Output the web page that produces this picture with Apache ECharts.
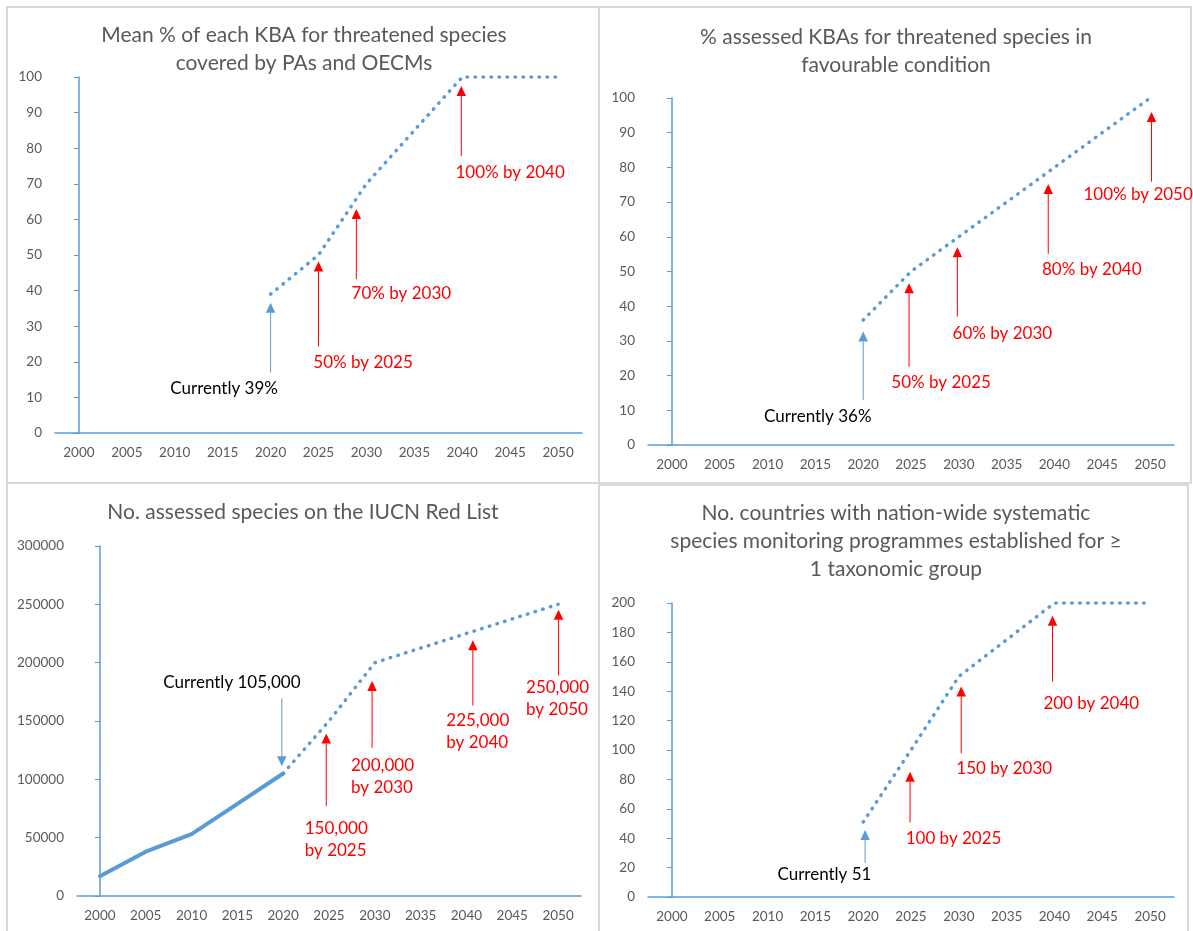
<!DOCTYPE html>
<html>
<head>
<meta charset="utf-8">
<script src="https://cdn.jsdelivr.net/npm/echarts@6/dist/echarts.min.js"></script>
<style>
  html, body { margin: 0; padding: 0; background: #ffffff; }
  #chart { width: 1193px; height: 931px; }
</style>
</head>
<body>
<div id="chart"></div>
<script>
// ---- data ----
const years = ['2000', '2005', '2010', '2015', '2020', '2025', '2030', '2035', '2040', '2045', '2050'];

// Mean % of each KBA covered by PAs and OECMs (current value, then targets)
const kbaCoverage = [null, null, null, null, 39, 50, 70, null, 100, 100, 100];
// % assessed KBAs in favourable condition
const kbaCondition = [null, null, null, null, 36, 50, 60, null, 80, null, 100];
// No. species assessed on the IUCN Red List: history and targets
const redListHistory = [17000, 38000, 53000, 79000, 105000, null, null, null, null, null, null];
const redListTarget = [null, null, null, null, 105000, 150000, 200000, null, 225000, null, 250000];
// No. countries with systematic species monitoring
const monitoringCountries = [null, null, null, null, 51, 100, 150, null, 200, 200, 200];

// y-axis ranges
const yMax = [100, 100, 300000, 200];
const yStep = [10, 10, 50000, 20];

const titles = [
  'Mean % of each KBA for threatened species\ncovered by PAs and OECMs',
  '% assessed KBAs for threatened species in\nfavourable condition',
  'No. assessed species on the IUCN Red List',
  'No. countries with nation-wide systematic\nspecies monitoring programmes established for \u2265\n1 taxonomic group'
];

// ---- helpers ----
const at = (arr, y) => arr[years.indexOf(y)];
const thousands = v => v.toLocaleString('en-US');

// ---- styling ----
const BLUE = '#5B9BD5';
const RED = '#FF0000';
const GREY = '#595959';
const FONT = 'Lato';

// plot areas in page pixels
const grids = [
  { left: 55, top: 77, width: 527, height: 356 },
  { left: 648, top: 98, width: 526, height: 347 },
  { left: 77, top: 546, width: 504, height: 350 },
  { left: 648, top: 603, width: 526, height: 294 }
];
const titlePos = [
  { x: 304, y: 21 }, { x: 896, y: 23 }, { x: 303, y: 498 }, { x: 896, y: 499 }
];

// annotation arrows: [category position, tail value, tip value, colour]
const arrows = [
  [[4, 17, 36.6, BLUE], [5, 24.3, 48.2, RED], [5.79, 43.2, 62.9, RED], [7.98, 77.8, 97.5, RED]],
  [[4, 13, 32.7, BLUE], [4.96, 22.6, 46.6, RED], [5.97, 37, 57, RED], [7.87, 55.1, 75.2, RED], [10.03, 75.9, 96, RED]],
  [[3.97, 169300, 111300, BLUE], [4.94, 77000, 139300, RED], [5.94, 127000, 184300, RED], [8.14, 163200, 219200, RED], [10.01, 189200, 245400, RED]],
  [[4.04, 23.2, 45.5, BLUE], [4.98, 50.7, 85.2, RED], [6.05, 97.7, 143.2, RED], [7.96, 146.6, 191.3, RED]]
];

// annotation texts: [category position, value, text, colour, align]
const notes = [
  [
    [3.03, 12.4, 'Currently ' + at(kbaCoverage, '2020') + '%', '#000000', 'center'],
    [5.93, 19.9, at(kbaCoverage, '2025') + '% by 2025', RED, 'center'],
    [6.73, 39.1, at(kbaCoverage, '2030') + '% by 2030', RED, 'center'],
    [9.0, 73.1, at(kbaCoverage, '2040') + '% by 2040', RED, 'center']
  ],
  [
    [3.05, 8.2, 'Currently ' + at(kbaCondition, '2020') + '%', '#000000', 'center'],
    [5.63, 18.1, at(kbaCondition, '2025') + '% by 2025', RED, 'center'],
    [6.91, 32.2, at(kbaCondition, '2030') + '% by 2030', RED, 'center'],
    [8.78, 50.5, at(kbaCondition, '2040') + '% by 2040', RED, 'center'],
    [9.75, 72.1, at(kbaCondition, '2050') + '% by 2050', RED, 'center']
  ],
  [
    [2.88, 183000, 'Currently ' + thousands(at(redListHistory, '2020')), '#000000', 'center'],
    [4.47, 48000, thousands(at(redListTarget, '2025')) + '\nby 2025', RED, 'left'],
    [5.48, 102100, thousands(at(redListTarget, '2030')) + '\nby 2030', RED, 'left'],
    [7.56, 140800, thousands(at(redListTarget, '2040')) + '\nby 2040', RED, 'left'],
    [9.30, 169300, thousands(at(redListTarget, '2050')) + '\nby 2050', RED, 'left']
  ],
  [
    [3.19, 15.3, 'Currently ' + at(monitoringCountries, '2020'), '#000000', 'center'],
    [5.89, 39.8, at(monitoringCountries, '2025') + ' by 2025', RED, 'center'],
    [6.95, 87.5, at(monitoringCountries, '2030') + ' by 2030', RED, 'center'],
    [8.77, 131.8, at(monitoringCountries, '2040') + ' by 2040', RED, 'center']
  ]
];

// ---- option ----
const xAxis = [];
const yAxis = [];
const series = [];

grids.forEach((g, i) => {
  // visible year axis
  xAxis.push({
    type: 'category', gridIndex: i, data: years, boundaryGap: true,
    axisLine: { lineStyle: { color: BLUE, width: 1.5 } },
    axisTick: { show: false },
    axisLabel: { color: GREY, fontFamily: FONT, fontSize: 13.5, margin: 13, interval: 0 },
    splitLine: { show: false }
  });
  // hidden linear companion axis, aligned with category centres, for annotations
  xAxis.push({
    type: 'value', gridIndex: i, min: -0.5, max: years.length - 0.5, show: false,
    splitLine: { show: false }
  });
  yAxis.push({
    type: 'value', gridIndex: i, min: 0, max: yMax[i], interval: yStep[i],
    axisLine: { show: true, lineStyle: { color: BLUE, width: 1.5 } },
    axisTick: { show: true, length: 5, lineStyle: { color: BLUE, width: 1 } },
    axisLabel: { color: GREY, fontFamily: FONT, fontSize: 13.5, margin: 13, formatter: v => String(v) },
    splitLine: { show: false }
  });
});

const dotted = { color: BLUE, width: 3.5, type: [0.5, 7.5], cap: 'round', join: 'round' };

function lineSeries(i, data, style) {
  return {
    type: 'line', xAxisIndex: i * 2, yAxisIndex: i, data: data,
    showSymbol: false, symbol: 'none', connectNulls: true, silent: true,
    lineStyle: style, itemStyle: { color: BLUE }
  };
}

series.push(lineSeries(0, kbaCoverage, dotted));
series.push(lineSeries(1, kbaCondition, dotted));
series.push(lineSeries(2, redListHistory, { color: BLUE, width: 4, cap: 'round', join: 'round' }));
series.push(lineSeries(2, redListTarget, dotted));
series.push(lineSeries(3, monitoringCountries, dotted));

grids.forEach((g, i) => {
  const items = arrows[i];
  series.push({
    type: 'custom', xAxisIndex: i * 2 + 1, yAxisIndex: i, silent: true,
    data: items.map(a => [a[0], a[1], a[2]]),
    renderItem: (params, api) => {
      const a = items[params.dataIndex];
      const tail = api.coord([a[0], a[1]]);
      const tip = api.coord([a[0], a[2]]);
      const dir = tip[1] < tail[1] ? 1 : -1;
      const headH = 10, headW = 9.5;
      const baseY = tip[1] + dir * headH;
      return {
        type: 'group',
        children: [
          { type: 'line', shape: { x1: tail[0], y1: tail[1], x2: tip[0], y2: baseY },
            style: { stroke: a[3], lineWidth: 1 } },
          { type: 'polygon', shape: { points: [[tip[0], tip[1]], [tip[0] - headW / 2, baseY], [tip[0] + headW / 2, baseY]] },
            style: { fill: a[3] } }
        ]
      };
    }
  });
  const texts = notes[i];
  series.push({
    type: 'custom', xAxisIndex: i * 2 + 1, yAxisIndex: i, silent: true,
    data: texts.map(t => [t[0], t[1]]),
    renderItem: (params, api) => {
      const t = texts[params.dataIndex];
      const p = api.coord([t[0], t[1]]);
      return {
        type: 'text', x: p[0], y: p[1],
        style: { text: t[2], fill: t[3], fontFamily: FONT, fontSize: 17, lineHeight: 22,
                 align: t[4], verticalAlign: 'middle' }
      };
    }
  });
});

const panelBoxes = [
  { x: 7, y: 7, width: 592, height: 476 },
  { x: 599, y: 7, width: 592, height: 476 },
  { x: 7, y: 483, width: 592, height: 470 },
  { x: 599, y: 485, width: 589, height: 470 }
];

const option = {
  animation: false,
  backgroundColor: '#ffffff',
  title: titles.map((t, i) => ({
    text: t, left: titlePos[i].x, top: titlePos[i].y, textAlign: 'center', padding: 0,
    textStyle: { fontFamily: FONT, fontSize: 21, fontWeight: 'normal', color: GREY, lineHeight: 28 }
  })),
  grid: grids,
  xAxis: xAxis,
  yAxis: yAxis,
  series: series,
  graphic: panelBoxes.map(b => ({
    type: 'rect', shape: b, silent: true, z: -10,
    style: { fill: 'none', stroke: '#d9d9d9', lineWidth: 2 }
  }))
};

const chart = echarts.init(document.getElementById('chart'), null, { renderer: 'canvas' });
chart.setOption(option);
</script>
</body>
</html>
